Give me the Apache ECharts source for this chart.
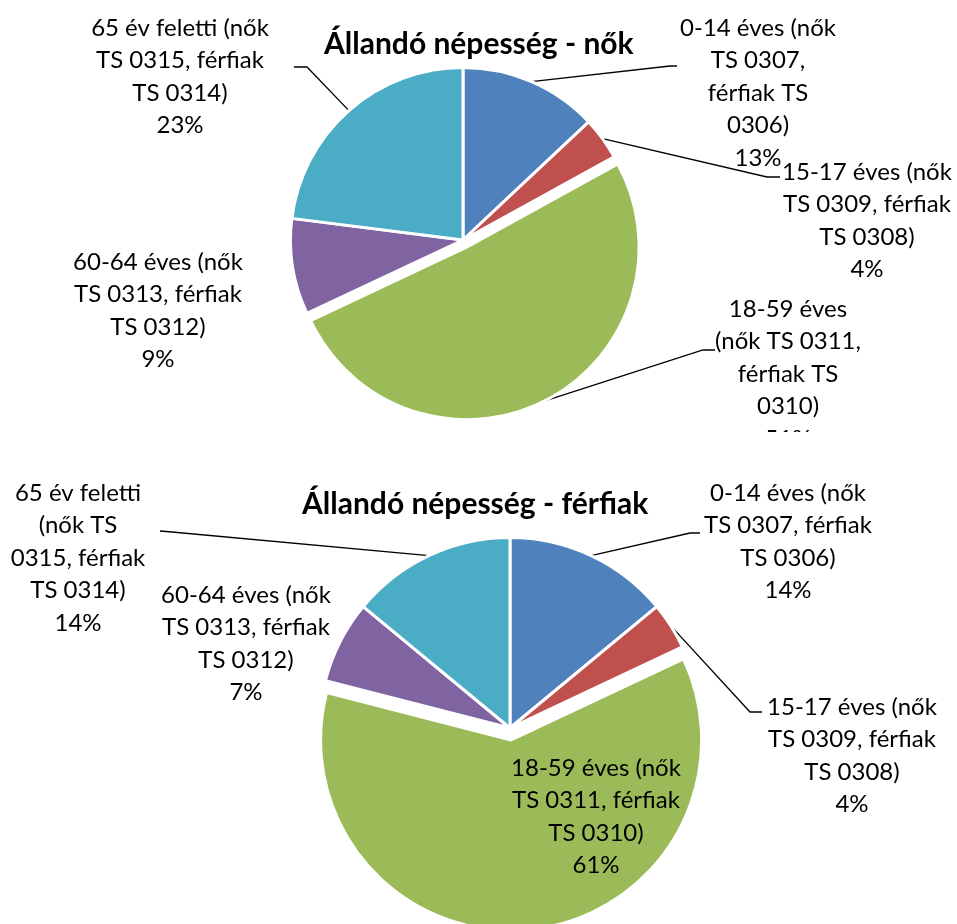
<!DOCTYPE html>
<html>
<head>
<meta charset="utf-8">
<script src="https://cdn.jsdelivr.net/npm/echarts@6/dist/echarts.min.js"></script>
<style>
  html, body { margin: 0; padding: 0; background: #fff; }
  #women { width: 957px; height: 432px; }
  #men { width: 957px; height: 492px; }
</style>
</head>
<body>
<div id="women"></div>
<div id="men"></div>
<script>
// korcsoportok
const categories = [
  '0-14 éves (nők TS 0307, férfiak TS 0306)',
  '15-17 éves (nők TS 0309, férfiak TS 0308)',
  '18-59 éves (nők TS 0311, férfiak TS 0310)',
  '60-64 éves (nők TS 0313, férfiak TS 0312)',
  '65 év feletti (nők TS 0315, férfiak TS 0314)'
];
const womenValues = [13, 4, 51, 9, 23];
const menValues = [14, 4, 61, 7, 14];

// tördelt címkék, ahogy a képen
const womenLabels = [
  '0-14 éves (nők\nTS 0307,\nférfiak TS\n0306)',
  '15-17 éves (nők\nTS 0309, férfiak\nTS 0308)',
  '18-59 éves\n(nők TS 0311,\nférfiak TS\n0310)',
  '60-64 éves (nők\nTS 0313, férfiak\nTS 0312)',
  '65 év feletti (nők\nTS 0315, férfiak\nTS 0314)'
];
const menLabels = [
  '0-14 éves (nők\nTS 0307, férfiak\nTS 0306)',
  '15-17 éves (nők\nTS 0309, férfiak\nTS 0308)',
  '18-59 éves (nők\nTS 0311, férfiak\nTS 0310)',
  '60-64 éves (nők\nTS 0313, férfiak\nTS 0312)',
  '65 év feletti\n(nők TS\n0315, férfiak\nTS 0314)'
];

const colors = ['#4F81BD', '#C0504D', '#9BBB59', '#8064A2', '#4BACC6'];
const FONT = 'Lato';
const EXPLODED = 2; // a 18-59 szelet ki van emelve

// szelet közepének iránya (óramutató szerint, felülről)
function midAngle(values, i) {
  const total = values.reduce((a, b) => a + b, 0);
  let before = 0;
  for (let k = 0; k < i; k++) before += values[k];
  return (before + values[i] / 2) / total * Math.PI * 2;
}

function makeOption(conf) {
  const pieBase = {
    type: 'pie',
    center: conf.center,
    radius: conf.radius,
    startAngle: 90,
    clockwise: true,
    silent: true,
    emphasis: { disabled: true }
  };
  return {
    animation: false,
    color: colors,
    title: {
      text: conf.title,
      left: conf.titleLeft,
      top: conf.titleTop,
      padding: 0,
      textStyle: { fontFamily: FONT, fontWeight: 'bold', fontSize: 30, color: '#000' }
    },
    series: [
      // szeletek
      Object.assign({}, pieBase, {
        selectedMode: 'single',
        selectedOffset: conf.explode,
        itemStyle: { borderColor: '#fff', borderWidth: 3 },
        select: { itemStyle: { borderColor: '#fff', borderWidth: 3 } },
        label: { show: false },
        labelLine: { show: false },
        data: conf.values.map((v, i) => ({ name: categories[i], value: v, selected: i === EXPLODED }))
      }),
      // feliratok és vezetővonalak
      Object.assign({}, pieBase, {
        percentPrecision: 0,
        avoidLabelOverlap: false,
        itemStyle: { color: 'rgba(0,0,0,0)', borderWidth: 0 },
        label: {
          show: true,
          position: 'outside',
          fontFamily: FONT,
          fontSize: 24,
          lineHeight: 32.5,
          color: '#000',
          width: 400,
          overflow: 'none',
          formatter: p => conf.labels[p.dataIndex] + '\n' + p.percent + '%'
        },
        labelLine: { show: true, lineStyle: { color: '#000', width: 1.3 } },
        labelLayout: function (params) {
          const i = params.dataIndex;
          const pos = conf.labelPos[i];
          const res = { x: pos.x, y: pos.y, align: 'center', verticalAlign: 'top' };
          if (pos.line && params.labelLinePoints) {
            let start = params.labelLinePoints[0].slice();
            if (i === EXPLODED) {
              const a = midAngle(conf.values, i);
              start = [start[0] + Math.sin(a) * conf.explode, start[1] - Math.cos(a) * conf.explode];
            }
            res.labelLinePoints = [start].concat(pos.line);
          }
          return res;
        },
        data: conf.values.map((v, i) => ({
          name: categories[i],
          value: v,
          labelLine: { show: !!conf.labelPos[i].line }
        }))
      })
    ]
  };
}

const womenChart = echarts.init(document.getElementById('women'));
womenChart.setOption(makeOption({
  title: 'Állandó népesség - nők',
  titleLeft: 324,
  titleTop: 29,
  center: [463, 240],
  radius: 172.5,
  explode: 8,
  values: womenValues,
  labels: womenLabels,
  labelPos: [
    { x: 758, y: 12, line: [[670, 66], [677, 66]] },
    { x: 867, y: 156, line: [[767, 177], [780, 177]] },
    { x: 788, y: 293, line: [[703, 350], [715, 350]] },
    { x: 158, y: 246, line: null },
    { x: 180, y: 12, line: [[307, 67], [294, 67]] }
  ]
}));

const menChart = echarts.init(document.getElementById('men'));
menChart.setOption(makeOption({
  title: 'Állandó népesség - férfiak',
  titleLeft: 302,
  titleTop: 57,
  center: [510, 296],
  radius: 190.5,
  explode: 12,
  values: menValues,
  labels: menLabels,
  labelPos: [
    { x: 788, y: 45, line: [[690, 101], [700, 101]] },
    { x: 852, y: 259, line: [[750, 280], [762, 280]] },
    { x: 596, y: 320, line: null },
    { x: 246, y: 147, line: null },
    { x: 78, y: 45, line: [[172, 100], [160, 99]] }
  ]
}));
</script>
</body>
</html>
